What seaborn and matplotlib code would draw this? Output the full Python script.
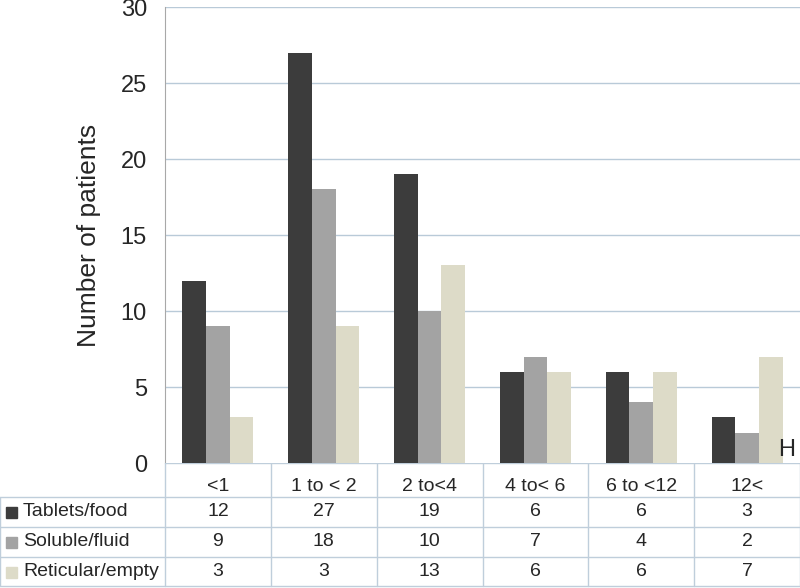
import matplotlib
matplotlib.use('Agg')
import matplotlib.pyplot as plt
import pandas as pd
import seaborn as sns

categories = ['<1', '1 to < 2', '2 to<4', '4 to< 6', '6 to <12', '12<']
series = ['Tablets/food', 'Soluble/fluid', 'Reticular/empty']
tablets = [12, 27, 19, 6, 6, 3]
soluble = [9, 18, 10, 7, 4, 2]
reticular = [3, 9, 13, 6, 6, 7]
# the table under the chart prints these numbers (its second one differs from the bar)
table_tablets = ['12', '27', '19', '6', '6', '3']
table_soluble = ['9', '18', '10', '7', '4', '2']
table_reticular = ['3', '3', '13', '6', '6', '7']
colors = ['#3c3c3c', '#a3a3a3', '#dddbc8']

sns.set_style('white')
plt.rcParams['font.family'] = ['Liberation Sans', 'DejaVu Sans']

rows = []
for name, vals in zip(series, [tablets, soluble, reticular]):
    for c, v in zip(categories, vals):
        rows.append({'cat': c, 'series': name, 'value': v})
df = pd.DataFrame(rows)

W, H = 800, 588
fig = plt.figure(figsize=(8, 5.88), dpi=100)
left, right, top, bottom = 165, 800, 7, 463
ax = fig.add_axes([left / W, 1 - bottom / H, (right - left) / W, (bottom - top) / H])

sns.barplot(data=df, x='cat', y='value', hue='series', order=categories,
            hue_order=series, palette=colors, width=0.67, gap=0,
            saturation=1, linewidth=0, legend=False, ax=ax)

grid_c = '#b9cad8'
ax.set_ylim(0, 30)
ax.set_xlim(-0.5, len(categories) - 0.5)
ax.set_yticks(range(0, 31, 5))
for y in range(5, 31, 5):
    ax.axhline(y, color=grid_c, lw=1, zorder=0)
ax.set_axisbelow(True)
ax.tick_params(axis='y', length=0, labelsize=17, pad=13)
ax.set_xticks([])
ax.set_xlabel('')
ax.set_ylabel('Number of patients', fontsize=19, labelpad=14)
for s in ['top', 'right', 'bottom']:
    ax.spines[s].set_visible(False)
ax.spines['left'].set_color('#a8a8a8')
ax.text(0.993, 0.005, 'H', transform=ax.transAxes, ha='right', va='bottom', fontsize=17)

# data table under the chart, in pixel coordinates
tab = fig.add_axes([0, 0, 1, (H - bottom) / H])
tab.set_xlim(0, W)
tab.set_ylim(H, bottom)
tab.axis('off')
line_c = '#bfcedb'
col_w = (right - left) / len(categories)
row_y = [bottom, 497, 527, 557, 586]
for i in range(len(categories) + 1):
    x = left + i * col_w
    tab.plot([x, x], [bottom, row_y[-1]], color=line_c, lw=1)
tab.plot([0, 0], [row_y[1], row_y[-1]], color=line_c, lw=1)
for y in row_y[1:]:
    tab.plot([0, W], [y, y], color=line_c, lw=1)
tab.plot([left, W], [bottom, bottom], color=line_c, lw=1)

for i, c in enumerate(categories):
    cx = left + (i + 0.5) * col_w
    tab.text(cx, (row_y[0] + row_y[1]) / 2 + 6, c, ha='center', va='center', fontsize=14)
for r, (name, col, vals) in enumerate(zip(series, colors,
                                          [table_tablets, table_soluble, table_reticular])):
    cy = (row_y[r + 1] + row_y[r + 2]) / 2
    tab.add_patch(plt.Rectangle((6, cy - 5), 11, 11, color=col))
    tab.text(23, cy, name, ha='left', va='center', fontsize=14)
    for i, v in enumerate(vals):
        tab.text(left + (i + 0.5) * col_w, cy, v, ha='center', va='center', fontsize=14)

fig.savefig('out.png', dpi=100)
